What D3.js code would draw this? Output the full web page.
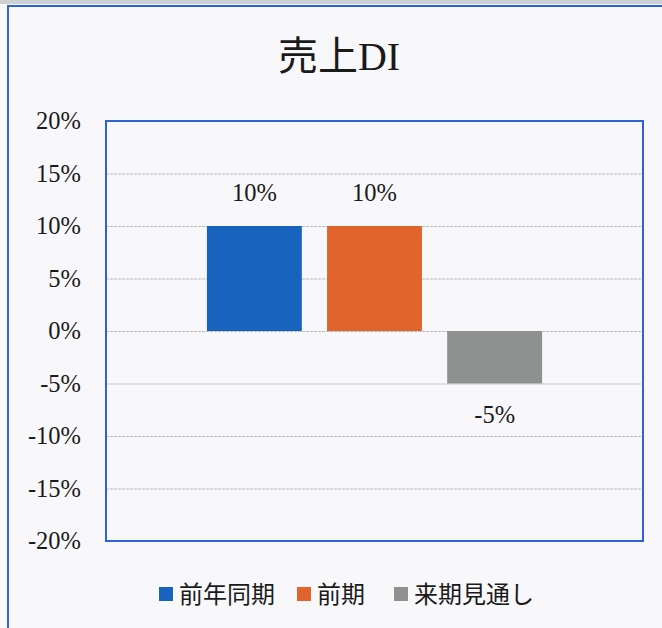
<!DOCTYPE html>
<html>
<head>
<meta charset="utf-8">
<script src="https://cdn.jsdelivr.net/npm/d3@7"></script>
<style>
  html, body { margin: 0; padding: 0; background: #f8f8fa; }
  svg { display: block; }
</style>
</head>
<body>
<script>
// chart data
var title = "売上DI";
var seriesNames = ["前年同期", "前期", "来期見通し"];
var seriesValues = [0.10, 0.10, -0.05];
var seriesColors = ["#1763bd", "#e0642c", "#8e918f"];
var yTicks = [-0.2, -0.15, -0.1, -0.05, 0, 0.05, 0.1, 0.15, 0.2];

var width = 662, height = 628;
var plot = {left: 106, right: 643, top: 121, bottom: 541};
var serif = "'Liberation Serif', 'Times New Roman', 'Noto Sans CJK JP', serif";
var sans = "'Noto Sans CJK JP', sans-serif";

var svg = d3.select("body").append("svg")
    .attr("width", width)
    .attr("height", height);

// scan edge at top + outer chart frame
svg.append("rect")
    .attr("x", 0).attr("y", 0)
    .attr("width", width).attr("height", 4)
    .attr("fill", "#cfd0d4");
svg.append("rect")
    .attr("x", 8).attr("y", 6)
    .attr("width", width + 10).attr("height", height + 10)
    .attr("fill", "none")
    .attr("stroke", "#2e63d6")
    .attr("stroke-width", 2);

var yScale = d3.scaleLinear()
    .domain([-0.2, 0.2])
    .range([plot.bottom, plot.top]);

var xScale = d3.scaleBand()
    .domain(seriesNames)
    .range([plot.left, plot.right])
    .paddingInner(0.21)
    .paddingOuter(0.84);

// plain hyphen for negatives, like the original
var pct = d3.format(".0%");
var fmt = function(d) { return pct(d).replace("\u2212", "-"); };

// grid
var grid = svg.append("g")
    .attr("transform", "translate(" + plot.left + ",0)")
    .call(d3.axisRight(yScale)
        .tickValues(yTicks)
        .tickSize(plot.right - plot.left)
        .tickFormat(""));
grid.select(".domain").remove();
grid.selectAll("line")
    .attr("stroke", "#b9babd")
    .attr("stroke-width", 1)
    .attr("stroke-dasharray", "3,1");

// y axis labels
var yAxis = svg.append("g")
    .attr("transform", "translate(" + (plot.left - 25) + ",0)")
    .call(d3.axisLeft(yScale)
        .tickValues(yTicks)
        .tickSize(0)
        .tickPadding(0)
        .tickFormat(fmt));
yAxis.select(".domain").remove();
yAxis.selectAll("text")
    .attr("font-family", serif)
    .attr("font-size", 24.5)
    .attr("fill", "#1a1a1a");

// bars
svg.selectAll("rect.bar")
    .data(seriesValues)
    .enter()
    .append("rect")
    .attr("class", "bar")
    .attr("x", function(d, i) { return xScale(seriesNames[i]); })
    .attr("y", function(d) { return yScale(Math.max(d, 0)); })
    .attr("width", xScale.bandwidth())
    .attr("height", function(d) { return Math.abs(yScale(d) - yScale(0)); })
    .attr("fill", function(d, i) { return seriesColors[i]; });

// value labels
svg.selectAll("text.val")
    .data(seriesValues)
    .enter()
    .append("text")
    .attr("class", "val")
    .attr("x", function(d, i) { return xScale(seriesNames[i]) + xScale.bandwidth() / 2; })
    .attr("y", function(d) { return d >= 0 ? yScale(d) - 25 : yScale(d) + 39; })
    .attr("text-anchor", "middle")
    .attr("font-family", serif)
    .attr("font-size", 24.5)
    .attr("fill", "#1a1a1a")
    .text(function(d) { return fmt(d); });

// plot frame
svg.append("rect")
    .attr("x", plot.left).attr("y", plot.top)
    .attr("width", plot.right - plot.left)
    .attr("height", plot.bottom - plot.top)
    .attr("fill", "none")
    .attr("stroke", "#2e63d6")
    .attr("stroke-width", 2);

// title
svg.append("text")
    .attr("x", 339)
    .attr("y", 70)
    .attr("text-anchor", "middle")
    .attr("font-family", serif)
    .attr("font-size", 40)
    .attr("fill", "#1a1a1a")
    .text(title);

// legend
var legendX = [159, 297, 394];
var legend = svg.selectAll("g.legend")
    .data(seriesNames)
    .enter()
    .append("g")
    .attr("class", "legend")
    .attr("transform", function(d, i) { return "translate(" + legendX[i] + ",594)"; });
legend.append("rect")
    .attr("x", 0).attr("y", -7)
    .attr("width", 14).attr("height", 14)
    .attr("fill", function(d, i) { return seriesColors[i]; });
legend.append("text")
    .attr("x", 20)
    .attr("y", 0)
    .attr("dy", "0.36em")
    .attr("font-family", sans)
    .attr("font-size", 24)
    .attr("fill", "#1a1a1a")
    .text(function(d) { return d; });
</script>
</body>
</html>
